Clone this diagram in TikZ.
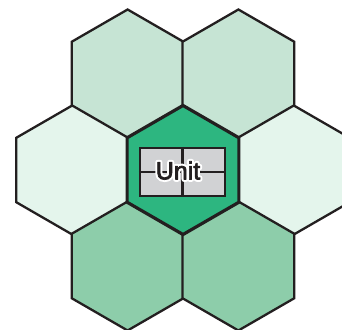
\documentclass[tikz,border=0pt]{standalone}
\usepackage{fontspec}
\setmainfont{Liberation Sans}
\usetikzlibrary{shapes.geometric}
\definecolor{edge}{HTML}{231F20}
\definecolor{topfill}{HTML}{C6E4D4}
\definecolor{sidefill}{HTML}{E4F5EC}
\definecolor{botfill}{HTML}{8DCDAA}
\definecolor{midfill}{HTML}{2DB680}
\definecolor{boxfill}{HTML}{D1D2D4}
\newcommand\halotext[1]{%
  \makebox[0pt][l]{\special{pdf:literal direct q 1 Tr 4.8 w 1 j 1 1 1 RG 1 1 1 rg}#1\special{pdf:literal direct 0 Tr Q}}%
  \special{pdf:literal direct q 2 Tr 0.7 w 1 j 0.137 0.122 0.125 RG}#1\special{pdf:literal direct 0 Tr Q}}
\begin{document}
\begin{tikzpicture}[x=1pt,y=-1pt,
  hex/.style={regular polygon, regular polygon sides=6, shape border rotate=30,
    minimum size=129pt, inner sep=0pt, draw=edge, line width=2.3pt},
  unitbox/.style={rectangle, draw=edge, fill=boxfill, line width=2.3pt,
    minimum width=85pt, minimum height=48pt, inner sep=0pt},
  label/.style={inner sep=0pt, text=edge, font=\fontsize{25}{25}\selectfont}]
\useasboundingbox (0,0) rectangle (342,329);
\node[hex, fill=topfill] (tl) at (127.6,74) {};
\node[hex, fill=topfill] (tr) at (238.4,74) {};
\node[hex, fill=sidefill] (l) at (72.2,170) {};
\node[hex, fill=sidefill] (r) at (293.8,170) {};
\node[hex, fill=botfill] (bl) at (127.6,266) {};
\node[hex, fill=botfill] (br) at (238.4,266) {};
\node[hex, fill=midfill, line width=3.2pt] (c) at (183,170) {};
\node[unitbox] (box) at (182.5,172) {};
\draw[edge, line width=2.3pt] (box.north) -- (box.south);
\draw[edge, line width=2.3pt] (box.west) -- (box.east);
\node[label] (txt) at (178,170.5) {\halotext{Unit}};
\end{tikzpicture}
\end{document}
